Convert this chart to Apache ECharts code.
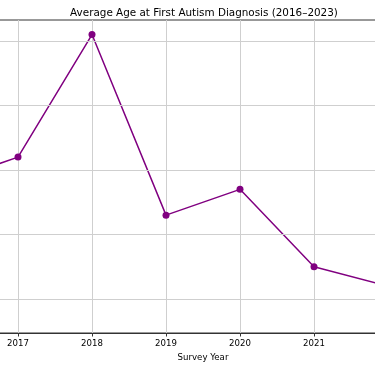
<!DOCTYPE html>
<html>
<head>
<meta charset="utf-8">
<script src="https://cdn.jsdelivr.net/npm/echarts@6/dist/echarts.min.js"></script>
<style>html,body{margin:0;padding:0;background:#fff}#c{width:375px;height:366px}</style>
</head>
<body>
<div id="c"></div>
<script>
const years = [2016, 2017, 2018, 2019, 2020, 2021, 2022, 2023];
const avgAge = [4.56, 4.64, 5.02, 4.46, 4.54, 4.30, 4.24, 4.18];
const yGridValues = [4.2, 4.4, 4.6, 4.8, 5.0];
const titleText = 'Average Age at First Autism Diagnosis (2016\u20132023)';
const xAxisName = 'Survey Year';
const visibleTickYears = [2017, 2018, 2019, 2020, 2021];

const font = 'DejaVu Sans';
const chart = echarts.init(document.getElementById('c'), null, {renderer: 'canvas'});
chart.setOption({
  animation: false,
  backgroundColor: '#fff',
  title: {
    text: titleText,
    left: 199, top: 3, textAlign: 'center',
    textStyle: {fontFamily: font, fontSize: 10.4, fontWeight: 'normal', color: '#000'}
  },
  grid: {
    left: -56, right: -87, top: 20, bottom: 33,
    outerBoundsMode: 'none', containLabel: false,
    show: true, borderColor: '#333', borderWidth: 1, backgroundColor: 'transparent'
  },
  xAxis: {
    type: 'value', min: 2016, max: 2023, interval: 1,
    name: xAxisName, nameLocation: 'middle', nameGap: 16,
    nameTextStyle: {fontFamily: font, fontSize: 8.6, color: '#000'},
    axisLine: {show: true, lineStyle: {color: '#333', width: 1}},
    axisTick: {show: true, length: 3.5, lineStyle: {color: '#333'}},
    axisLabel: {
      fontFamily: font, fontSize: 8.6, color: '#000', margin: 6,
      formatter: v => visibleTickYears.includes(v) ? String(v) : ''
    },
    splitLine: {show: true, lineStyle: {color: '#cfcfcf', width: 1}}
  },
  yAxis: {
    type: 'value', min: 4.0946, max: 5.0651,
    axisLine: {show: false}, axisTick: {show: false}, axisLabel: {show: false},
    splitLine: {show: false}
  },
  series: [
    {
      type: 'line', data: [], z: 1, silent: true,
      markLine: {
        silent: true, symbol: 'none', label: {show: false},
        lineStyle: {color: '#cfcfcf', width: 1, type: 'solid'},
        data: yGridValues.map(v => ({yAxis: v}))
      }
    },
    {
      type: 'line', z: 3,
      data: years.map((y, i) => [y, avgAge[i]]),
      symbol: 'circle', symbolSize: 7,
      lineStyle: {color: '#800080', width: 1.5},
      itemStyle: {color: '#800080'}
    }
  ]
});
</script>
</body>
</html>
